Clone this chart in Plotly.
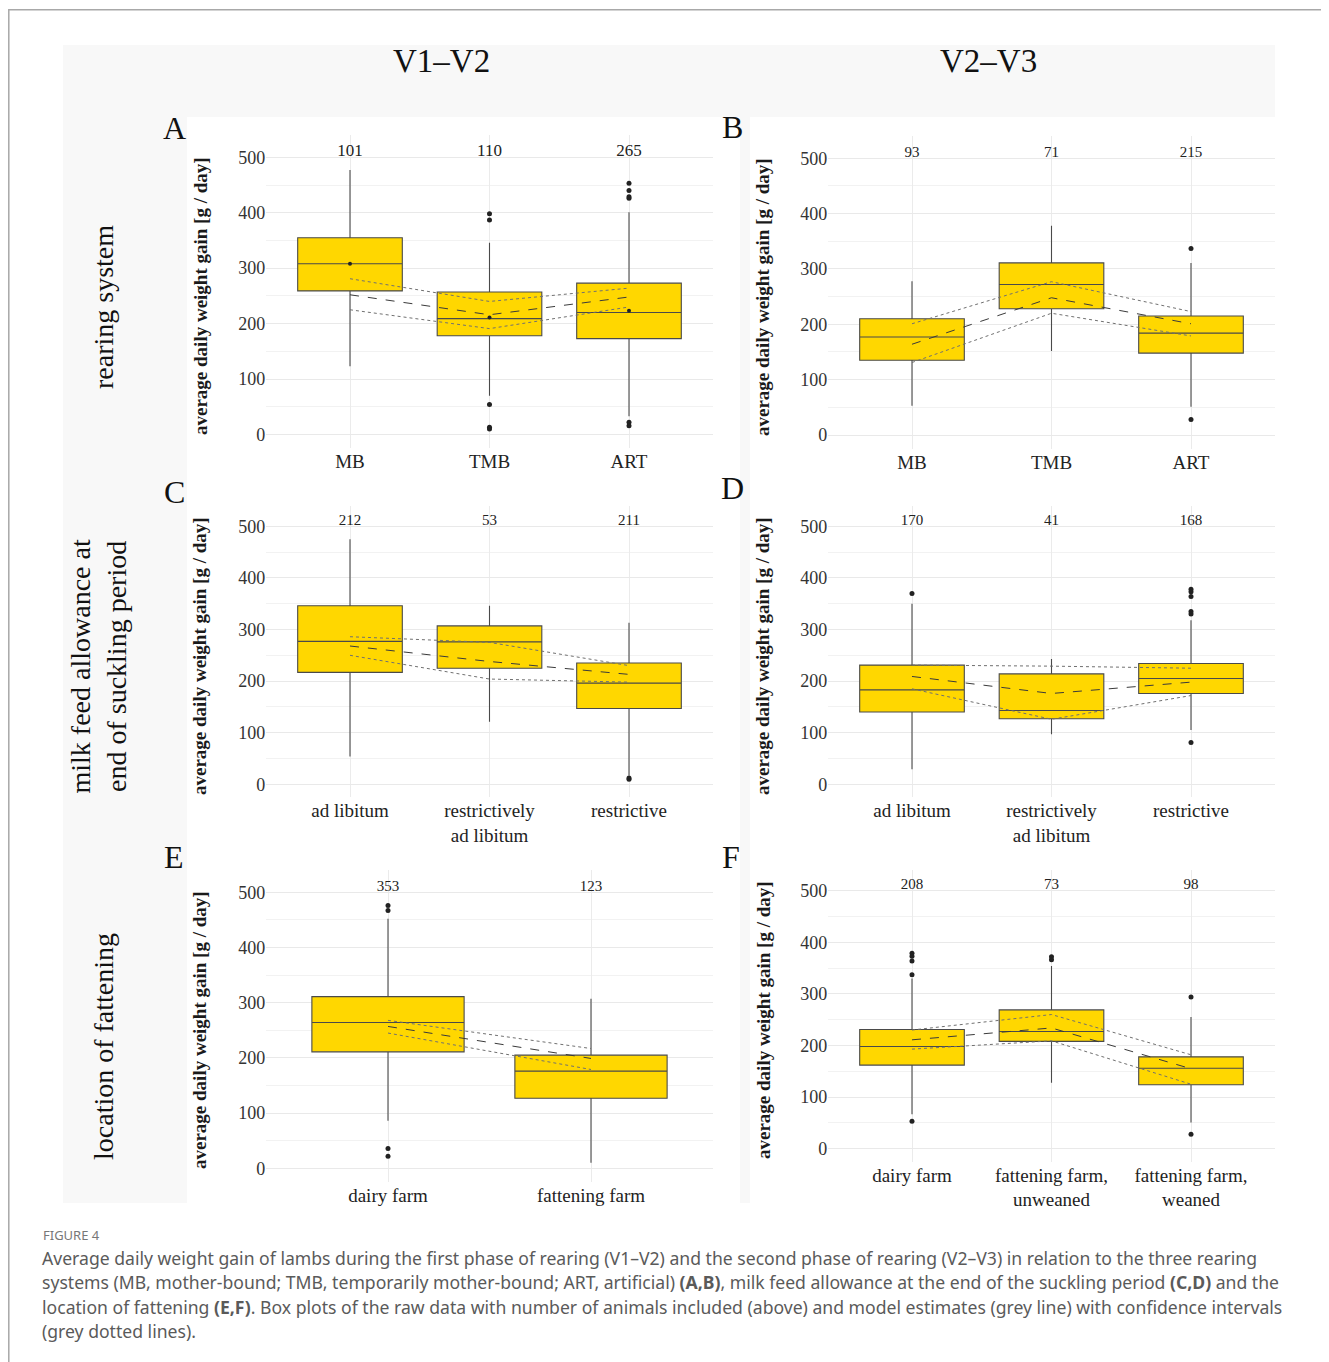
import plotly.graph_objects as go

# browser body margin is 8px, so the figure is drawn 8px smaller and offset
OFF = 8
W, H = 1329 - OFF, 1362 - OFF

# ---------------- data ----------------
cats_rearing = ["MB", "TMB", "ART"]
cats_milk = ["ad libitum", "restrictively<br>ad libitum", "restrictive"]
cats_loc_a = ["dairy farm", "fattening farm"]
cats_loc_b = ["dairy farm", "fattening farm,<br>unweaned", "fattening farm,<br>weaned"]

# Panel A (rearing system, V1-V2)
n_A = [101, 110, 265]
q1_A = [259, 178, 173]
med_A = [308, 209, 220]
q3_A = [355, 257, 273]
lo_A = [123, 70, 33]
hi_A = [477, 346, 401]
out_A_x = ["TMB"] * 5 + ["ART"] * 6
out_A_y = [398, 387, 54, 13, 10, 453, 440, 429, 426, 22, 16]
mean_A = [308, 211, 223]
est_A = [252, 216, 248]
upr_A = [281, 240, 264]
lwr_A = [225, 191, 230]

# Panel B (rearing system, V2-V3)
n_B = [93, 71, 215]
q1_B = [135, 228, 148]
med_B = [177, 272, 184]
q3_B = [210, 311, 215]
lo_B = [53, 152, 51]
hi_B = [278, 378, 311]
out_B_x = ["ART", "ART"]
out_B_y = [337, 28]
est_B = [164, 248, 201]
upr_B = [201, 277, 223]
lwr_B = [131, 220, 179]

# Panel C (milk feed allowance, V1-V2)
n_C = [212, 53, 211]
q1_C = [217, 225, 147]
med_C = [277, 276, 196]
q3_C = [346, 307, 235]
lo_C = [54, 121, 17]
hi_C = [475, 346, 313]
out_C_x = ["restrictive", "restrictive"]
out_C_y = [12, 10]
est_C = [268, 238, 213]
upr_C = [286, 275, 230]
lwr_C = [250, 204, 198]

# Panel D (milk feed allowance, V2-V3)
n_D = [170, 41, 168]
q1_D = [140, 127, 176]
med_D = [183, 143, 205]
q3_D = [231, 214, 234]
lo_D = [29, 97, 105]
hi_D = [350, 243, 318]
out_D_x = ["ad libitum"] + ["restrictive"] * 6
out_D_y = [370, 378, 373, 364, 335, 330, 81]
est_D = [209, 176, 198]
upr_D = [231, 229, 225]
lwr_D = [185, 126, 172]

# Panel E (location of fattening, V1-V2)
n_E = [353, 123]
q1_E = [211, 127]
med_E = [264, 176]
q3_E = [311, 205]
lo_E = [86, 10]
hi_E = [452, 307]
out_E_x = ["dairy farm"] * 4
out_E_y = [476, 467, 36, 22]
est_E = [257, 199]
upr_E = [268, 217]
lwr_E = [245, 179]

# Panel F (location of fattening, V2-V3)
n_F = [208, 73, 98]
q1_F = [162, 208, 124]
med_F = [198, 227, 156]
q3_F = [231, 269, 178]
lo_F = [67, 128, 51]
hi_F = [330, 354, 255]
out_F_x = ["dairy farm"] * 5 + ["fattening farm,<br>unweaned"] * 2 + ["fattening farm,<br>weaned"] * 2
out_F_y = [379, 373, 364, 337, 53, 372, 366, 294, 28]
est_F = [211, 234, 155]
upr_F = [230, 260, 182]
lwr_F = [193, 209, 125]

y_ticks = [0, 100, 200, 300, 400, 500]
y_minor = [50, 150, 250, 350, 450]
y_title = "average daily weight gain [g / day]"
col_titles = ["V1\u2013V2", "V2\u2013V3"]
row_titles = ["rearing system", "milk feed allowance at<br>end of suckling period", "location of fattening"]

SERIF = "Liberation Serif, Times New Roman, serif"
SANS = "Noto Sans, Open Sans, sans-serif"
YLO, YHI = -25, 540


def px_x(p):
    return (p - OFF) / W


def px_y(p):
    return 1 - (p - OFF) / H


def ydom(p500, p0):
    s = (p0 - p500) / 500
    top = p500 - (YHI - 500) * s
    bot = p0 + (0 - YLO) * s
    return [px_y(bot), px_y(top)]


def xdom(c_first, c_last, n):
    s = (c_last - c_first) / (n - 1)
    return [px_x(c_first - 0.6 * s), px_x(c_last + 0.6 * s)]


panels = [
    dict(cats=cats_rearing, n=n_A, q1=q1_A, med=med_A, q3=q3_A, lo=lo_A, hi=hi_A,
         ox=out_A_x, oy=out_A_y, est=est_A, upr=upr_A, lwr=lwr_A,
         xd=xdom(350, 629, 3), yd=ydom(157.3, 434.5), nsize=17, letter="A", lpos=(174, 128), tpos=(200, 296)),
    dict(cats=cats_rearing, n=n_B, q1=q1_B, med=med_B, q3=q3_B, lo=lo_B, hi=hi_B,
         ox=out_B_x, oy=out_B_y, est=est_B, upr=upr_B, lwr=lwr_B,
         xd=xdom(912, 1191, 3), yd=ydom(158.3, 435), nsize=15, letter="B", lpos=(733, 127), tpos=(763, 297)),
    dict(cats=cats_milk, n=n_C, q1=q1_C, med=med_C, q3=q3_C, lo=lo_C, hi=hi_C,
         ox=out_C_x, oy=out_C_y, est=est_C, upr=upr_C, lwr=lwr_C,
         xd=xdom(350, 629, 3), yd=ydom(526.3, 784.3), nsize=15, letter="C", lpos=(174, 492), tpos=(200, 656)),
    dict(cats=cats_milk, n=n_D, q1=q1_D, med=med_D, q3=q3_D, lo=lo_D, hi=hi_D,
         ox=out_D_x, oy=out_D_y, est=est_D, upr=upr_D, lwr=lwr_D,
         xd=xdom(912, 1191, 3), yd=ydom(526.3, 784.3), nsize=15, letter="D", lpos=(733, 488), tpos=(763, 656)),
    dict(cats=cats_loc_a, n=n_E, q1=q1_E, med=med_E, q3=q3_E, lo=lo_E, hi=hi_E,
         ox=out_E_x, oy=out_E_y, est=est_E, upr=upr_E, lwr=lwr_E,
         xd=xdom(388, 591, 2), yd=ydom(892.3, 1168.3), nsize=15, letter="E", lpos=(174, 857), tpos=(200, 1030)),
    dict(cats=cats_loc_b, n=n_F, q1=q1_F, med=med_F, q3=q3_F, lo=lo_F, hi=hi_F,
         ox=out_F_x, oy=out_F_y, est=est_F, upr=upr_F, lwr=lwr_F,
         xd=xdom(912, 1191, 3), yd=ydom(890.7, 1148.7), nsize=15, letter="F", lpos=(731, 857), tpos=(763, 1020)),
]

fig = go.Figure()
annotations = []
layout_axes = {}

for i, p in enumerate(panels):
    k = "" if i == 0 else str(i + 1)
    xa, ya = "x" + k, "y" + k
    ncat = len(p["cats"])
    fig.add_trace(go.Box(
        x=p["cats"], q1=p["q1"], median=p["med"], q3=p["q3"],
        lowerfence=p["lo"], upperfence=p["hi"],
        fillcolor="#FFD700", line=dict(color="#4a4a4a", width=1.1),
        whiskerwidth=0, width=0.75, boxpoints=False,
        xaxis=xa, yaxis=ya, hoverinfo="skip"))
    fig.add_trace(go.Scatter(
        x=p["ox"], y=p["oy"], mode="markers",
        marker=dict(color="#222222", size=5), xaxis=xa, yaxis=ya, hoverinfo="skip"))
    if i == 0:
        fig.add_trace(go.Scatter(
            x=p["cats"], y=mean_A, mode="markers",
            marker=dict(color="#222222", size=4), xaxis=xa, yaxis=ya, hoverinfo="skip"))
    for vals, dash, col in [(p["upr"], "dot", "#707070"), (p["lwr"], "dot", "#707070"),
                            (p["est"], "dash", "#3a3a3a")]:
        fig.add_trace(go.Scatter(
            x=p["cats"], y=vals, mode="lines",
            line=dict(color=col, width=1, dash=dash), xaxis=xa, yaxis=ya, hoverinfo="skip"))
    fig.add_trace(go.Scatter(
        x=p["cats"], y=[510] * ncat, mode="text", text=[str(v) for v in p["n"]],
        textposition="middle center",
        textfont=dict(family=SERIF, size=p["nsize"], color="#222222"),
        cliponaxis=False, xaxis=xa, yaxis=ya, hoverinfo="skip"))

    layout_axes["xaxis" + k] = dict(
        domain=p["xd"], anchor=ya, type="category",
        categoryorder="array", categoryarray=p["cats"],
        range=[-0.6, ncat - 0.4], showgrid=True, gridcolor="#ebebeb", gridwidth=1,
        zeroline=False, showline=False, ticks="", automargin=False,
        tickfont=dict(family=SERIF, size=19, color="#222222"), fixedrange=True)
    layout_axes["yaxis" + k] = dict(
        domain=p["yd"], anchor=xa, range=[YLO, YHI],
        tickvals=y_ticks, showgrid=True, gridcolor="#e9e9e9", gridwidth=1,
        minor=dict(tickvals=y_minor, showgrid=True, gridcolor="#f2f2f2", gridwidth=1),
        zeroline=False, showline=False, ticks="", automargin=False,
        tickfont=dict(family=SERIF, size=18, color="#333333"), fixedrange=True)

    annotations.append(dict(
        x=px_x(p["tpos"][0]), y=px_y(p["tpos"][1]), xref="paper", yref="paper",
        text="<b>" + y_title + "</b>", textangle=-90, showarrow=False,
        xanchor="center", yanchor="middle",
        font=dict(family=SERIF, size=19, color="#1a1a1a")))
    annotations.append(dict(
        x=px_x(p["lpos"][0]), y=px_y(p["lpos"][1]), xref="paper", yref="paper",
        text=p["letter"], showarrow=False, xanchor="center", yanchor="middle",
        font=dict(family=SERIF, size=32, color="#111111")))

# column strip titles
for txt, cx in zip(col_titles, [442, 988]):
    annotations.append(dict(
        x=px_x(cx), y=px_y(61), xref="paper", yref="paper", text=txt, showarrow=False,
        xanchor="center", yanchor="middle", font=dict(family=SERIF, size=33, color="#111111")))

# row strip titles
for txt, cx, cy in zip(row_titles, [103, 97.5, 103], [307, 667, 1047]):
    annotations.append(dict(
        x=px_x(cx), y=px_y(cy), xref="paper", yref="paper", text=txt, showarrow=False,
        textangle=-90, xanchor="center", yanchor="middle",
        font=dict(family=SERIF, size=28, color="#111111")))

# caption
caption_lines = [
    "Average daily weight gain of lambs during the first phase of rearing (V1\u2013V2) and the second phase of rearing (V2\u2013V3) in relation to the three rearing",
    "systems (MB, mother-bound; TMB, temporarily mother-bound; ART, artificial) <b>(A,B)</b>, milk feed allowance at the end of the suckling period <b>(C,D)</b> and the",
    "location of fattening <b>(E,F)</b>. Box plots of the raw data with number of animals included (above) and model estimates (grey line) with confidence intervals",
    "(grey dotted lines).",
]
annotations.append(dict(
    x=px_x(41), y=px_y(1235), xref="paper", yref="paper", text="FIGURE 4", showarrow=False,
    xanchor="left", yanchor="middle", font=dict(family=SANS, size=13, color="#777777")))
for j, line in enumerate(caption_lines):
    annotations.append(dict(
        x=px_x(40), y=px_y(1258 + j * 24.4), xref="paper", yref="paper", text=line,
        showarrow=False, xanchor="left", yanchor="middle",
        font=dict(family=SANS, size=17.6, color="#5a5a5a")))

shapes = [
    # outer frame
    dict(type="rect", xref="paper", yref="paper", x0=px_x(8.8), x1=px_x(1345), y0=px_y(1380), y1=px_y(9.8),
         line=dict(color="#a8a8a8", width=1.5), fillcolor="rgba(0,0,0,0)", layer="below"),
    # grey facet background
    dict(type="rect", xref="paper", yref="paper", x0=px_x(63), x1=px_x(1275), y0=px_y(1203), y1=px_y(45),
         line=dict(width=0), fillcolor="#f8f8f8", layer="below"),
    dict(type="rect", xref="paper", yref="paper", x0=px_x(187), x1=px_x(740), y0=px_y(1203), y1=px_y(117),
         line=dict(width=0), fillcolor="#ffffff", layer="below"),
    dict(type="rect", xref="paper", yref="paper", x0=px_x(750), x1=px_x(1275), y0=px_y(1203), y1=px_y(117),
         line=dict(width=0), fillcolor="#ffffff", layer="below"),
]

fig.update_layout(
    width=W, height=H, autosize=False,
    margin=dict(l=0, r=0, t=0, b=0),
    paper_bgcolor="#ffffff", plot_bgcolor="rgba(0,0,0,0)",
    showlegend=False, annotations=annotations, shapes=shapes,
    **layout_axes)

fig.write_html("out.html")
